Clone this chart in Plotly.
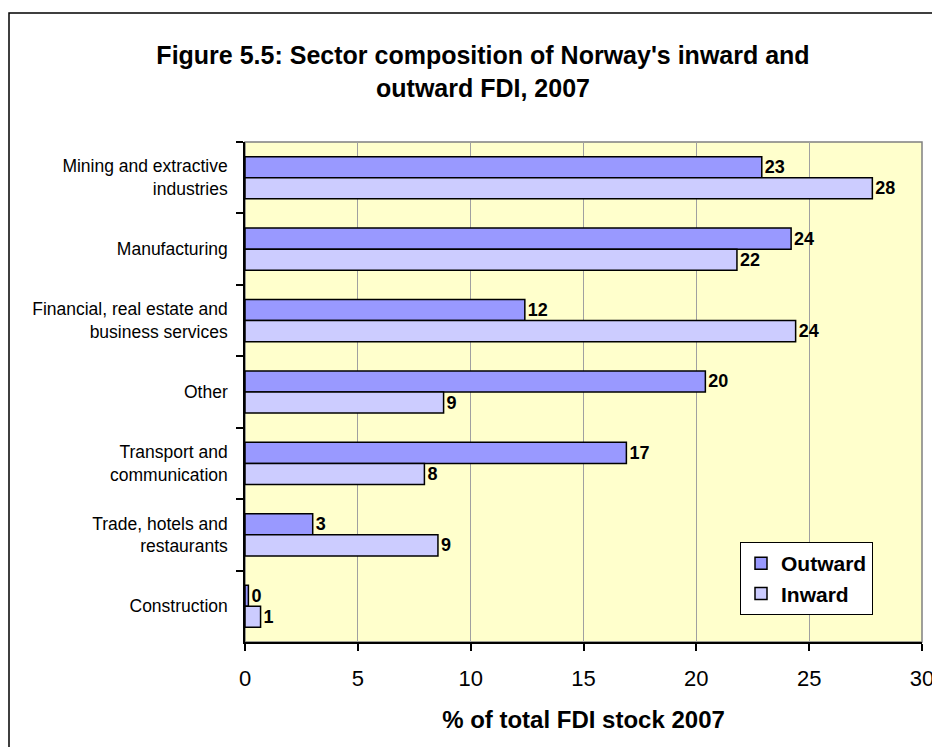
import plotly.graph_objects as go

categories = [
    "Mining and extractive<br>industries",
    "Manufacturing",
    "Financial, real estate and<br>business services",
    "Other",
    "Transport and<br>communication",
    "Trade, hotels and<br>restaurants",
    "Construction",
]
outward = [22.9, 24.2, 12.4, 20.4, 16.9, 3.0, 0.15]
inward = [27.8, 21.8, 24.4, 8.8, 7.95, 8.55, 0.69]
series_names = ["Outward", "Inward"]
x_ticks = [0, 5, 10, 15, 20, 25, 30]

FONT = "Liberation Sans, Arial, sans-serif"

# page body has an 8px margin, so figure coords = screen coords - 8
OFF = 8
W, H = 940, 739
PL, PR, PT, PB = 245 - OFF, 922 - OFF, 142 - OFF, 642 - OFF
PW, PH = PR - PL, PB - PT

fig = go.Figure()
for name, vals, col in [(series_names[0], outward, "#9999FF"), (series_names[1], inward, "#CCCCFF")]:
    fig.add_trace(go.Bar(
        y=categories, x=vals, name=name, orientation="h",
        marker=dict(color=col, line=dict(color="black", width=1.5)),
        texttemplate="%{x:.0f}", textposition="outside",
        textfont=dict(family=FONT, size=18, color="black", weight="bold"),
        cliponaxis=False, constraintext="none",
    ))

fig.update_layout(
    width=W, height=H,
    margin=dict(l=PL, r=W - PR, t=PT, b=H - PB, autoexpand=False),
    paper_bgcolor="white", plot_bgcolor="#FFFFCC",
    barmode="group", bargap=0.41, bargroupgap=0,
    font=dict(family=FONT, color="black"),
    title=dict(
        text="Figure 5.5: Sector composition of Norway's inward and<br>outward FDI, 2007",
        font=dict(family=FONT, size=25, color="black", weight="bold"),
        x=475 / W, xanchor="center", xref="container",
        y=1 - 56 / H, yanchor="top", yref="container",
    ),
    legend=dict(
        x=(740 - 245) / PW, y=(642 - 542) / PH, xanchor="left", yanchor="top",
        bgcolor="white", bordercolor="black", borderwidth=1,
        font=dict(family=FONT, size=21, color="black", weight="bold"),
        traceorder="normal",
    ),
    showlegend=True,
    shapes=[
        dict(type="rect", xref="paper", yref="paper", x0=0, x1=1, y0=0, y1=1,
             line=dict(color="#808080", width=1.5), layer="below"),
        dict(type="rect", xref="paper", yref="paper",
             x0=(1 - PL) / PW, x1=(980 - PL) / PW,
             y0=(PB - 780) / PH, y1=(PB - 5) / PH,
             line=dict(color="black", width=1.5), layer="above"),
    ],
)

fig.update_xaxes(
    range=[0, 30], tickvals=x_ticks, ticktext=[str(t) for t in x_ticks],
    showgrid=True, gridcolor="#A0A0A0", gridwidth=1,
    showline=True, linecolor="black", linewidth=1.5,
    ticks="outside", ticklen=7, tickcolor="black", tickwidth=1.5,
    tickfont=dict(family=FONT, size=22, color="black"),
    ticklabelstandoff=9,
    zeroline=False, automargin=False,
    title=dict(text="% of total FDI stock 2007",
               font=dict(family=FONT, size=24, color="black", weight="bold"),
               standoff=21),
)
fig.update_yaxes(
    autorange="reversed", type="category",
    showline=True, linecolor="black", linewidth=1.5,
    ticks="outside", ticklen=7, tickcolor="black", tickwidth=1.5,
    tickson="boundaries", showgrid=False, automargin=False,
    tickfont=dict(family=FONT, size=17.5, color="black"),
    ticklabelstandoff=12,
)

fig.write_html("out.html")
